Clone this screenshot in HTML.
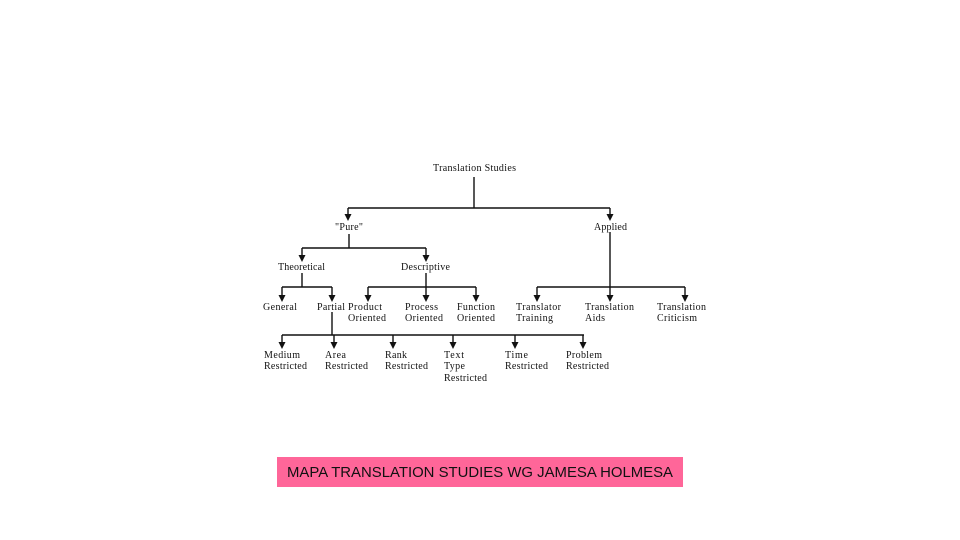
<!DOCTYPE html>
<html><head><meta charset="utf-8"><style>
html,body{margin:0;padding:0;background:#fff;width:960px;height:540px;overflow:hidden}
svg{display:block}
text{font-family:"Liberation Serif",serif;font-size:10px;fill:#111}
</style></head><body>
<svg width="960" height="540" viewBox="0 0 960 540" xmlns="http://www.w3.org/2000/svg">
<defs>
<marker id="a" viewBox="0 0 10 10" refX="5" refY="10" markerWidth="6" markerHeight="7" orient="auto-start-reverse" markerUnits="userSpaceOnUse">
</marker>
</defs>
<g stroke="#111" stroke-width="1.4" fill="none">
<path d="M474 177V208M348 208H610M348 208V218M610 208V218"/>
<path d="M349 234V248M302 248H426M302 248V259M426 248V259"/>
<path d="M302 273V287M282 287H332M282 287V299M332 287V299"/>
<path d="M426 273V299M368 287H476M368 287V299M476 287V299"/>
<path d="M610 232V299M537 287H685M537 287V299M685 287V299"/>
<path d="M332 312V335M282 335H584M282 335V346M334 335V346M393 335V346M453 335V346M515 335V346M583 335V346"/>
</g>
<g fill="#111">
<path d="M344.5 214L348 221L351.5 214Z"/><path d="M606.5 214L610 221L613.5 214Z"/>
<path d="M298.5 255L302 262L305.5 255Z"/><path d="M422.5 255L426 262L429.5 255Z"/>
<path d="M278.5 295L282 302L285.5 295Z"/><path d="M328.5 295L332 302L335.5 295Z"/>
<path d="M364.5 295L368 302L371.5 295Z"/><path d="M422.5 295L426 302L429.5 295Z"/><path d="M472.5 295L476 302L479.5 295Z"/>
<path d="M533.5 295L537 302L540.5 295Z"/><path d="M606.5 295L610 302L613.5 295Z"/><path d="M681.5 295L685 302L688.5 295Z"/>
<path d="M278.5 342L282 349L285.5 342Z"/><path d="M330.5 342L334 349L337.5 342Z"/><path d="M389.5 342L393 349L396.5 342Z"/>
<path d="M449.5 342L453 349L456.5 342Z"/><path d="M511.5 342L515 349L518.5 342Z"/><path d="M579.5 342L583 349L586.5 342Z"/>
</g>
<text x="433" y="171" textLength="83">Translation Studies</text>
<text x="335" y="230" textLength="28">"Pure"</text>
<text x="594" y="230" textLength="33">Applied</text>
<text x="278" y="270" textLength="47">Theoretical</text>
<text x="401" y="270" textLength="49">Descriptive</text>
<text x="263" y="310" textLength="34">General</text>
<text x="317" y="310" textLength="28">Partial</text>
<text x="348" y="310" textLength="34">Product</text><text x="348" y="321" textLength="38">Oriented</text>
<text x="405" y="310" textLength="33">Process</text><text x="405" y="321" textLength="38">Oriented</text>
<text x="457" y="310" textLength="38">Function</text><text x="457" y="321" textLength="38">Oriented</text>
<text x="516" y="310" textLength="45">Translator</text><text x="516" y="321" textLength="37">Training</text>
<text x="585" y="310" textLength="49">Translation</text><text x="585" y="321" textLength="20">Aids</text>
<text x="657" y="310" textLength="49">Translation</text><text x="657" y="321" textLength="40">Criticism</text>
<text x="264" y="358" textLength="36">Medium</text><text x="264" y="369" textLength="43">Restricted</text>
<text x="325" y="358" textLength="21">Area</text><text x="325" y="369" textLength="43">Restricted</text>
<text x="385" y="358" textLength="22">Rank</text><text x="385" y="369" textLength="43">Restricted</text>
<text x="444" y="358" textLength="20">Text</text><text x="444" y="369" textLength="21">Type</text><text x="444" y="381" textLength="43">Restricted</text>
<text x="505" y="358" textLength="23">Time</text><text x="505" y="369" textLength="43">Restricted</text>
<text x="566" y="358" textLength="36">Problem</text><text x="566" y="369" textLength="43">Restricted</text>
<rect x="277" y="457" width="406" height="30" fill="#ff6699"/>
<text x="287" y="477" textLength="386" lengthAdjust="spacingAndGlyphs" style="font-family:'Liberation Sans',sans-serif;font-size:15px;fill:#111">MAPA TRANSLATION STUDIES WG JAMESA HOLMESA</text>
</svg>
</body></html>
